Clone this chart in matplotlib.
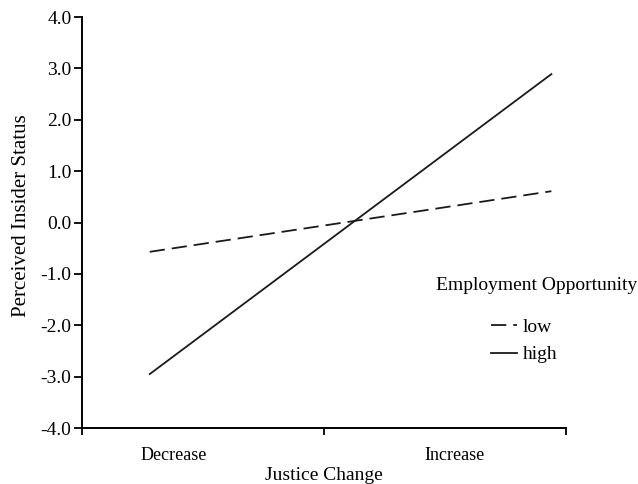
import matplotlib
matplotlib.use('Agg')
import matplotlib.pyplot as plt
import numpy as np

plt.rcParams['font.family'] = ['Liberation Serif', 'DejaVu Serif']
plt.rcParams['lines.scale_dashes'] = False

# simple slopes: justice change x employment opportunity
conditions = ['Decrease', 'Increase']
x_pos = [0.28, 1.94]
label_pos = [0.38, 1.54]
low = [-0.57, 0.61]
high = [-2.95, 2.89]
yticks = np.arange(-4.0, 4.01, 1.0)

fig = plt.figure(figsize=(6.38, 4.84), dpi=100)
ax = fig.add_axes([0.1285, 0.1157, 0.7585, 0.849])

ax.plot(x_pos, low, color='#1a1a1a', lw=1.3, dashes=(11, 5), label='low')
ax.plot(x_pos, high, color='#1a1a1a', lw=1.3, label='high')

ax.set_xlim(0, 2)
ax.set_ylim(-4, 4)
ax.set_yticks(yticks)
ax.set_yticklabels([f'{v:.1f}' for v in yticks])
ax.set_xticks([0, 1, 2])
ax.set_xticklabels([])
ax.set_xticks(label_pos, minor=True)
ax.set_xticklabels(conditions, minor=True)
ax.tick_params(axis='x', which='minor', length=0, pad=14, labelsize=13)
ax.tick_params(axis='x', which='major', length=5, width=1.3, direction='out')
ax.tick_params(axis='y', length=5.5, width=1.3, direction='out', labelsize=14, pad=2)

for s in ['top', 'right']:
    ax.spines[s].set_visible(False)
for s in ['left', 'bottom']:
    ax.spines[s].set_linewidth(1.4)

ax.set_xlabel('Justice Change', fontsize=14, labelpad=2)
ax.set_ylabel('Perceived Insider Status', fontsize=15)
ax.yaxis.set_label_coords(-0.106, 0.518)

# legend title placed on its own, entries below it
fig.text(536.5 / 638, 1 - 286 / 484, 'Employment Opportunity', fontsize=14,
         ha='center', va='center')
ax.legend(frameon=False, fontsize=14, handlelength=1.35, handletextpad=0.3,
          labelspacing=0.5, loc='center', borderpad=0,
          bbox_to_anchor=(524 / 638, 1 - 341 / 484),
          bbox_transform=fig.transFigure)

fig.savefig('out.png', dpi=100)
